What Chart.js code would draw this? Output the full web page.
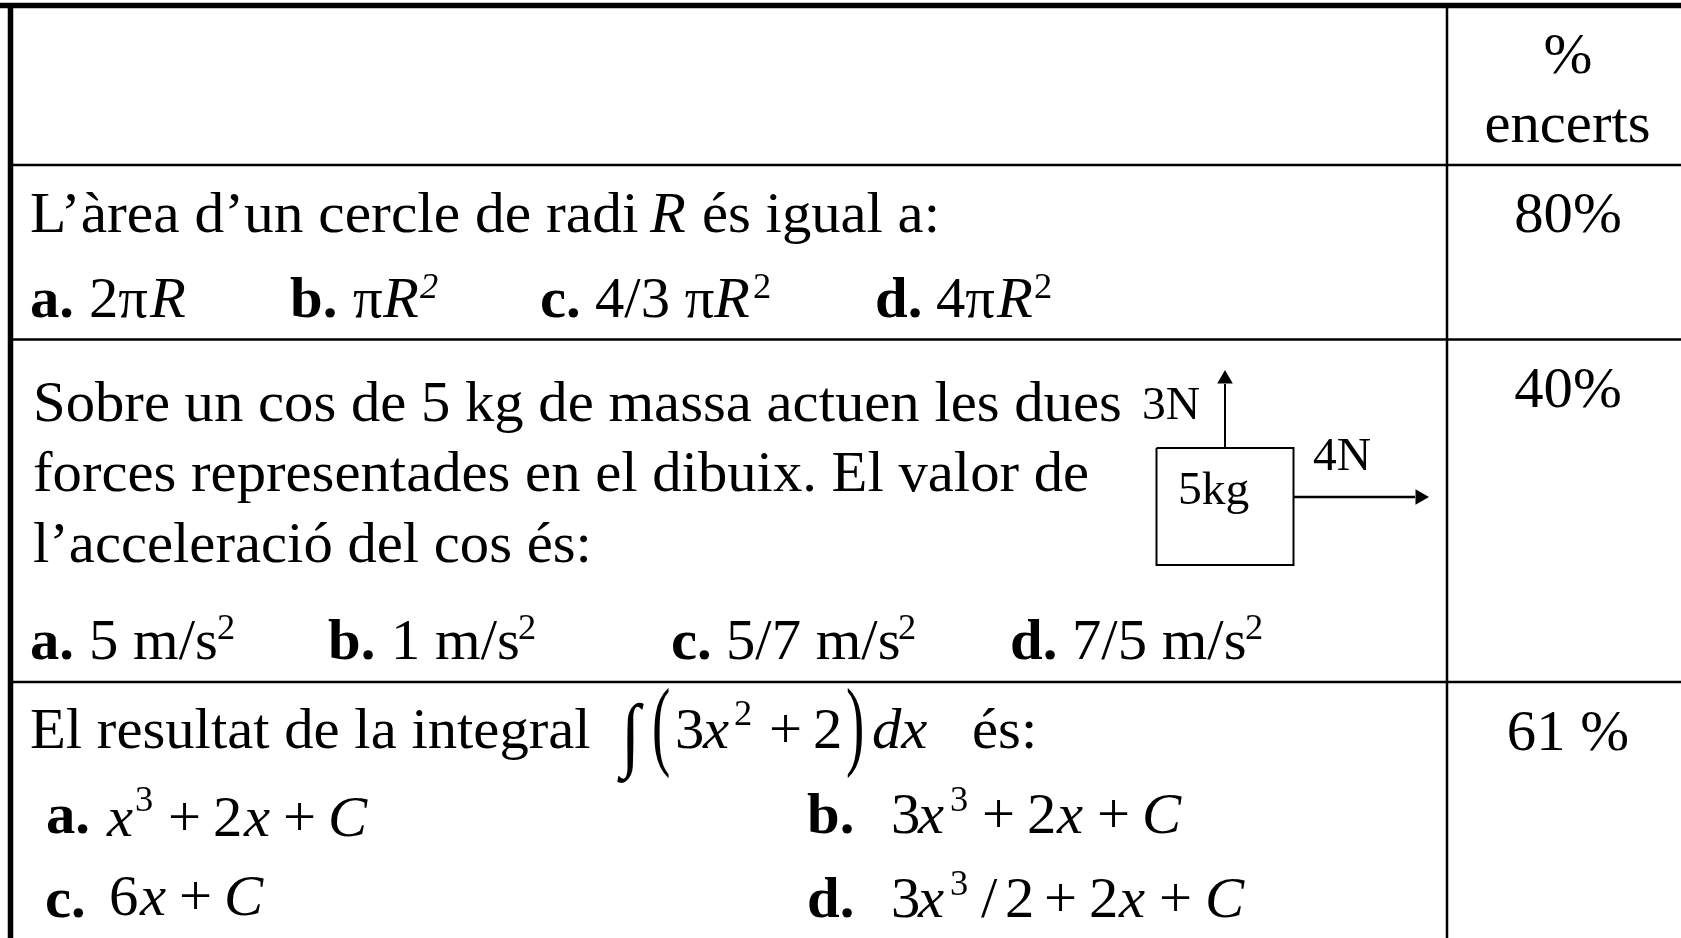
<!DOCTYPE html>
<html><head><meta charset="utf-8">
<style>html,body{margin:0;padding:0;background:#fff;overflow:hidden}canvas{display:block}</style>
<script src="https://cdn.jsdelivr.net/npm/chart.js@4"></script></head>
<body><canvas id="c" width="1681" height="938" style="width:1681px;height:938px"></canvas>
<script>
// ---- content -------------------------------------------------------------
const headerLabels  = ['%', 'encerts'];
const percentLabels = ['80%', '40%', '61 %'];
const question1 = ['L’àrea d’un cercle de radi', 'R', 'és igual a:'];
const options1  = ['a.', '2π', 'R', 'b.', 'π', 'R', '2', 'c.', '4/3 π', 'R', '2', 'd.', '4π', 'R', '2'];
const question2 = ['Sobre un cos de 5 kg de massa actuen les dues', 'forces representades en el dibuix. El valor de', 'l’acceleració del cos és:'];
const options2  = ['a.', '5 m/s', '2', 'b.', '1 m/s', '2', 'c.', '5/7 m/s', '2', 'd.', '7/5 m/s', '2'];
const diagramLabels = ['3N', '4N', '5kg'];
const question3 = ['El resultat de la integral', '∫', '(', '3', 'x', '2', '+', '2', ')', 'dx', 'és:'];
const options3a = ['a.', 'x', '3', '+', '2', 'x', '+', 'C'];
const options3b = ['b.', '3', 'x', '3', '+', '2', 'x', '+', 'C'];
const options3c = ['c.', '6', 'x', '+', 'C'];
const options3d = ['d.', '3', 'x', '3', '/', '2', '+', '2', 'x', '+', 'C'];

// ---- table rules and diagram strokes -------------------------------------
const heavyRules = [[[0,5.5],[1681,5.5]], [[10.5,3],[10.5,938]]];
const thinRules  = [[[10,165],[1681,165]], [[10,339.5],[1681,339.5]], [[10,682],[1681,682]], [[1447,5],[1447,938]]];
const boxOutline = [[1156.5,448],[1293.5,448],[1293.5,565],[1156.5,565],[1156.5,448]];
const upArrowShaft = [[1225,448],[1225,384]];
const rightArrowShaft = [[1294,497],[1415,497]];
const arrowHeadUp = [[1225,379]];
const arrowHeadRight = [[1420,497]];

// ---- text layout ---------------------------------------------------------
const M = 58, SX = 1.012;
const R = '', I = 'italic ', B = 'bold ';
function row(strings, places) { return strings.map((t, i) => ({ t, ...places[i] })); }
const p = (x, y, st = R, size = M, extra = {}) => ({ x, y, st, size, ...extra });
const c = (x, y) => p(x, y, R, M, { center: true });
const sup = (x, y, st = R) => p(x, y, st, 36);
const textRuns = [
  ...row(headerLabels, [c(1568,73), c(1567.5,142)]),
  ...row(percentLabels, [c(1568,232), c(1568,407), c(1568,750)]),
  ...row(question1, [p(30,232,R,M,{sx:1.025}), p(650,232,I), p(702,232)]),
  ...row(options1, [p(30,317,B), p(89,317), p(150,317,I), p(290,317,B), p(353,317), p(383,317,I), sup(420,298,I),
                    p(540,317,B), p(595,317), p(714,317,I), sup(753,298), p(875,317,B), p(936,317), p(997,317,I), sup(1034,298)]),
  ...row(question2, [p(33,421), p(33,491), p(33,562)]),
  ...row(options2, [p(30,659,B), p(89,659), sup(217,639), p(328,659,B), p(391,659), sup(518,639),
                    p(671,659,B), p(726,659), sup(898,639), p(1010,659,B), p(1072,659), sup(1245,639)]),
  ...row(diagramLabels, [p(1142,419,R,47), p(1313,470,R,47), p(1178,504,R,47)]),
  ...row(question3, [p(30,748), p(621,761,R,82,{sx:0.85}), p(652,757,R,100,{sx:0.55}), p(675,748), p(703,748,I), sup(734,725),
                     p(769,748), p(813,748), p(846,757,R,100,{sx:0.55}), p(872,748,I), p(972,748)]),
  ...row(options3a, [p(46,833,B), p(107,836,I), sup(135,811), p(168,836), p(213,836), p(244,836,I), p(283,836), p(328,836,I)]),
  ...row(options3b, [p(807,833,B), p(891,833), p(918,833,I), sup(950,811), p(982,833), p(1027,833), p(1057,833,I), p(1097,833), p(1142,833,I)]),
  ...row(options3c, [p(45,917,B), p(109,915), p(140,915,I), p(179,915), p(224,915,I)]),
  ...row(options3d, [p(807,917,B), p(891,917), p(918,917,I), sup(950,895), p(981,917), p(1005,917), p(1044,917), p(1089,917), p(1119,917,I), p(1159,917), p(1205,917,I)]),
];

const line = (pts, width) => ({
  data: pts.map(([x, y]) => ({ x, y })), showLine: true, borderColor: '#000', borderWidth: width,
  pointRadius: 0, tension: 0, fill: false, borderCapStyle: 'butt', clip: false
});
const head = (pts, rot) => ({
  data: pts.map(([x, y]) => ({ x, y })), showLine: false, pointStyle: 'triangle', pointRadius: 9,
  pointRotation: rot, pointBackgroundColor: '#000', pointBorderColor: '#000', pointBorderWidth: 0, clip: false
});

const tableText = {
  id: 'tableText',
  afterDatasetsDraw(chart) {
    const { ctx, scales: { x, y } } = chart;
    ctx.save();
    ctx.fillStyle = '#000';
    ctx.textBaseline = 'alphabetic';
    for (const r of textRuns) {
      const sx = r.sx ?? SX;
      ctx.save();
      ctx.translate(x.getPixelForValue(r.x), y.getPixelForValue(r.y));
      ctx.scale(sx, 1);
      ctx.font = `${r.st}${r.size}px "Liberation Serif"`;
      ctx.textAlign = r.center ? 'center' : 'left';
      ctx.fillText(r.t, 0, 0);
      ctx.restore();
    }
    ctx.restore();
  }
};

new Chart(document.getElementById('c'), {
  type: 'scatter',
  data: { datasets: [
    ...heavyRules.map(r => line(r, 5.5)),
    ...thinRules.map(r => line(r, 2.5)),
    line(boxOutline, 2),
    line(upArrowShaft, 2),
    line(rightArrowShaft, 2.5),
    head(arrowHeadUp, 0),
    head(arrowHeadRight, 90),
  ]},
  options: {
    responsive: false, animation: false, events: [],
    layout: { padding: 0, autoPadding: false },
    plugins: { legend: { display: false }, tooltip: { enabled: false }, title: { display: false } },
    scales: {
      x: { type: 'linear', min: 0, max: 1681, display: false },
      y: { type: 'linear', min: 0, max: 938, reverse: true, display: false }
    }
  },
  plugins: [tableText]
});
</script>
</body></html>
